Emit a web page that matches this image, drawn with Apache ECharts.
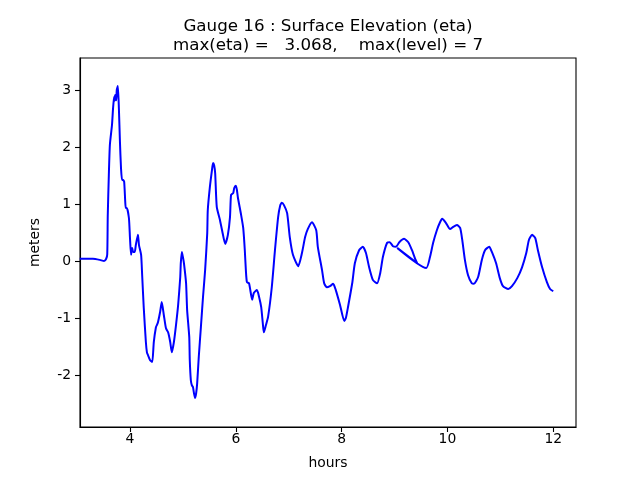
<!DOCTYPE html>
<html>
<head>
<meta charset="utf-8">
<script src="https://cdn.jsdelivr.net/npm/echarts@6/dist/echarts.min.js"></script>
<style>html,body{margin:0;padding:0;background:#fff}#c{width:640px;height:480px}</style>
</head>
<body>
<div id="c"></div>
<script>
var hours = [3.05,3.30,3.43,3.51,3.55,3.57,3.58,3.60,3.62,3.66,3.68,3.70,3.71,3.72,3.74,3.75,3.77,3.79,3.81,3.83,3.85,3.87,3.89,3.91,3.92,3.94,3.98,4.00,4.02,4.04,4.06,4.09,4.11,4.15,4.17,4.21,4.23,4.26,4.30,4.32,4.34,4.38,4.42,4.45,4.49,4.51,4.53,4.57,4.60,4.64,4.68,4.72,4.76,4.79,4.83,4.87,4.91,4.95,4.96,4.98,5.00,5.02,5.06,5.08,5.12,5.13,5.15,5.17,5.19,5.21,5.23,5.25,5.27,5.30,5.34,5.38,5.42,5.46,5.47,5.51,5.55,5.57,5.59,5.61,5.64,5.70,5.74,5.80,5.85,5.89,5.91,5.95,5.97,6.00,6.02,6.04,6.10,6.14,6.17,6.19,6.21,6.25,6.31,6.34,6.40,6.44,6.48,6.51,6.53,6.57,6.61,6.68,6.74,6.80,6.84,6.87,6.91,6.97,7.02,7.08,7.18,7.25,7.31,7.36,7.44,7.52,7.55,7.63,7.67,7.72,7.78,7.84,7.89,7.97,8.05,8.08,8.12,8.20,8.25,8.33,8.40,8.46,8.52,8.59,8.67,8.73,8.78,8.86,8.91,8.97,9.03,9.09,9.18,9.26,9.33,9.39,9.43,9.05,9.60,9.67,9.73,9.80,9.86,9.90,9.97,10.05,10.11,10.18,10.24,10.28,10.33,10.39,10.46,10.50,10.58,10.65,10.71,10.79,10.84,10.92,10.99,11.05,11.15,11.22,11.32,11.41,11.49,11.54,11.60,11.66,11.71,11.79,11.88,11.94,12.00];
var eta = [0.04,0.04,0.02,0.00,0.04,0.12,0.81,1.51,2.04,2.39,2.68,2.88,2.81,2.91,2.82,3.00,3.068,2.68,2.09,1.63,1.42,1.42,1.39,1.04,0.93,0.93,0.75,0.40,0.11,0.23,0.16,0.16,0.28,0.46,0.28,0.11,-0.25,-0.82,-1.42,-1.60,-1.65,-1.74,-1.77,-1.42,-1.16,-1.12,-1.07,-0.89,-0.72,-0.95,-1.18,-1.25,-1.42,-1.60,-1.42,-1.12,-0.77,-0.28,-0.04,0.16,0.07,-0.04,-0.39,-0.86,-1.33,-1.74,-2.09,-2.18,-2.21,-2.32,-2.40,-2.32,-2.14,-1.68,-1.16,-0.63,-0.16,0.49,0.89,1.30,1.60,1.72,1.68,1.54,0.95,0.72,0.54,0.30,0.46,0.77,1.16,1.19,1.28,1.32,1.25,1.11,0.81,0.58,0.19,-0.16,-0.37,-0.39,-0.68,-0.56,-0.51,-0.63,-0.81,-1.09,-1.25,-1.12,-0.98,-0.46,0.19,0.77,0.98,1.02,0.98,0.84,0.42,0.11,-0.09,0.14,0.42,0.56,0.68,0.54,0.25,-0.16,-0.39,-0.46,-0.44,-0.40,-0.51,-0.77,-1.05,-1.00,-0.81,-0.39,-0.04,0.19,0.25,0.14,-0.11,-0.33,-0.39,-0.21,0.07,0.32,0.33,0.26,0.25,0.33,0.39,0.33,0.19,0.04,-0.04,0.23,-0.12,0.07,0.32,0.54,0.68,0.74,0.67,0.56,0.60,0.63,0.58,0.37,0.02,-0.25,-0.39,-0.40,-0.28,0.02,0.19,0.25,0.16,-0.04,-0.30,-0.44,-0.49,-0.44,-0.30,-0.11,0.14,0.37,0.46,0.40,0.19,-0.11,-0.37,-0.49,-0.53];
var xTicks = [4, 6, 8, 10, 12];
var yTicks = [-2, -1, 0, 1, 2, 3];
var titleLines = ['Gauge 16 : Surface Elevation (eta)', 'max(eta) =   3.068,    max(level) = 7'];

var data = hours.map(function (h, i) { return [h, eta[i]]; });
var chart = echarts.init(document.getElementById('c'), null, {renderer: 'canvas'});
var font = 'DejaVu Sans';
chart.setOption({
  animation: false,
  backgroundColor: '#fff',
  title: {
    text: titleLines.join('\n'),
    left: 328, top: 17, textAlign: 'center', padding: 0,
    textStyle: {fontFamily: font, fontSize: 16.7, fontWeight: 'normal', color: '#000', lineHeight: 19}
  },
  grid: {left: 80, right: 64, top: 58, bottom: 53, show: true, borderColor: '#000', borderWidth: 1.1, backgroundColor: 'transparent', containLabel: false},
  xAxis: {
    type: 'value', min: 3.055, max: 12.43,
    name: 'hours', nameLocation: 'middle', nameGap: 29,
    nameTextStyle: {fontFamily: font, fontSize: 13.9, color: '#000'},
    axisLine: {show: true, onZero: false, lineStyle: {color: '#000', width: 1.1}},
    axisTick: {show: true, length: 5, inside: false, customValues: xTicks, lineStyle: {color: '#000', width: 1.1}},
    axisLabel: {customValues: xTicks, fontFamily: font, fontSize: 13.9, color: '#000', margin: 5},
    splitLine: {show: false}
  },
  yAxis: {
    type: 'value', min: -2.91, max: 3.56,
    name: 'meters', nameLocation: 'middle', nameGap: 38,
    nameTextStyle: {fontFamily: font, fontSize: 13.9, color: '#000'},
    axisLine: {show: true, onZero: false, lineStyle: {color: '#000', width: 1.1}},
    axisTick: {show: true, length: 5, inside: false, customValues: yTicks, lineStyle: {color: '#000', width: 1.1}},
    axisLabel: {customValues: yTicks, fontFamily: font, fontSize: 13.9, color: '#000', margin: 9},
    splitLine: {show: false}
  },
  series: [{
    type: 'line', data: data, showSymbol: false, symbol: 'none', smooth: 0.2,
    lineStyle: {color: '#0000ff', width: 2}, clip: true
  }]
});
</script>
</body>
</html>
